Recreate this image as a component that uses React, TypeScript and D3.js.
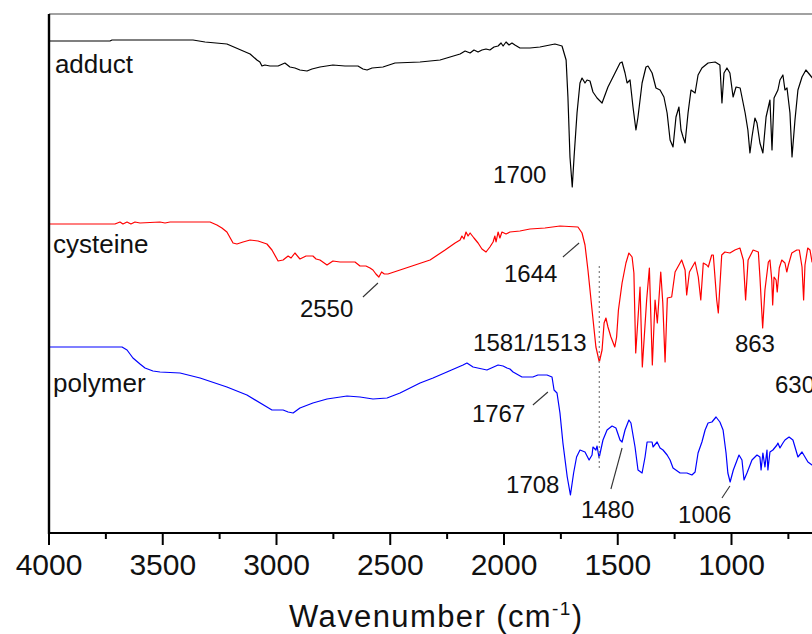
import React from 'react';
import * as d3 from 'd3';

// FTIR spectra: [wavenumber (cm-1), offset transmittance (a.u.)]
const adduct: [number, number][] = [
  [4000, 246], [3732, 246], [3723, 246.5], [3367, 246.5], [3314, 245.5], [3218, 244.5], [3116, 239.5],
  [3086, 236.5], [3073, 235.5], [3064, 233.5], [3051, 234], [3029, 233.5], [2993, 233.5], [2963, 235],
  [2941, 233], [2919, 232.5], [2897, 231.5], [2866, 231], [2844, 232], [2809, 233], [2752, 234],
  [2699, 233.5], [2642, 233.5], [2620, 232], [2602, 231.5], [2580, 232.5], [2532, 233], [2479, 235],
  [2369, 235.5], [2281, 236.5], [2237, 238], [2193, 239.5], [2171, 241], [2149, 240], [2132, 241.5],
  [2114, 240.5], [2097, 241.5], [2079, 242], [2062, 241.5], [2044, 243], [2026, 243.5], [2013, 245],
  [2004, 243.5], [1991, 245.5], [1978, 244], [1965, 245], [1952, 244], [1930, 242.5], [1886, 242.5],
  [1842, 243], [1776, 244.5], [1745, 243.5], [1727, 236.5], [1719, 218], [1710, 188], [1700, 173],
  [1692, 188], [1679, 210], [1666, 225], [1657, 227.5], [1644, 225], [1635, 226.5], [1622, 226],
  [1609, 220.5], [1591, 217.5], [1569, 215], [1543, 223], [1512, 230], [1490, 235], [1481, 235.5],
  [1468, 230], [1459, 225], [1446, 226.5], [1433, 213], [1420, 201.5], [1411, 208], [1393, 225],
  [1376, 233], [1367, 233.5], [1349, 230], [1332, 222.5], [1314, 221.5], [1297, 218], [1283, 210],
  [1270, 196.5], [1257, 193], [1244, 208], [1231, 213], [1222, 201.5], [1213, 198], [1204, 195],
  [1191, 210], [1178, 221.5], [1160, 220], [1147, 229], [1130, 232.5], [1103, 235], [1072, 235.5],
  [1051, 234], [1042, 215], [1033, 230], [1020, 232.5], [1007, 230], [993, 218], [980, 223],
  [962, 222.5], [940, 210], [928, 201.5], [919, 190], [910, 198], [897, 207.5], [888, 205], [875, 195],
  [862, 190], [848, 208], [831, 216.5], [822, 191.5], [813, 217.5], [796, 221.5], [787, 226.5],
  [774, 229], [765, 221.5], [756, 222.5], [743, 210], [734, 188], [721, 206.5], [708, 221.5],
  [690, 228], [673, 231.5], [655, 229], [637, 226.5], [611, 227.5],
];

const cysteine: [number, number][] = [
  [4000, 154.5], [3710, 154.5], [3688, 155.5], [3675, 154.5], [3657, 155.5], [3640, 154.5], [3622, 155.5],
  [3600, 155], [3512, 155.5], [3490, 155], [3468, 155.5], [3292, 155.5], [3262, 154], [3240, 152.5],
  [3218, 150.5], [3191, 145], [3174, 144.5], [3147, 145.5], [3116, 146.5], [3081, 146], [3042, 144.5],
  [3020, 141.5], [2993, 136], [2971, 136.5], [2949, 138.5], [2936, 137.5], [2919, 140], [2897, 137],
  [2870, 138.5], [2840, 138.5], [2826, 137], [2809, 136.5], [2778, 134], [2752, 136], [2721, 135.5],
  [2677, 135.5], [2655, 135.5], [2633, 133.5], [2607, 133.5], [2589, 132.5], [2576, 131.5],
  [2563, 129.5], [2550, 128], [2538, 130.5], [2526, 129.5], [2510, 129.5], [2457, 131.5], [2391, 134],
  [2325, 136.5], [2259, 141.5], [2215, 145], [2193, 146.5], [2185, 148.5], [2176, 147], [2167, 150.5],
  [2158, 148.5], [2149, 150], [2132, 147.5], [2114, 145], [2097, 142], [2079, 140.5], [2062, 143],
  [2048, 145.5], [2040, 148.5], [2035, 145.5], [2026, 150.5], [2018, 147.5], [2009, 150.5],
  [1991, 149.5], [1974, 150.5], [1930, 151], [1886, 152], [1820, 152.5], [1754, 153.5], [1675, 153],
  [1657, 150], [1644, 144], [1631, 131.5], [1613, 111.5], [1596, 93], [1581, 85.5], [1569, 91.5],
  [1560, 105], [1552, 107.5], [1543, 103], [1530, 98], [1513, 93], [1505, 98], [1497, 111.5],
  [1481, 125], [1464, 135], [1451, 140], [1437, 138], [1429, 130], [1421, 90], [1402, 123], [1392, 83],
  [1373, 116.5], [1361, 132.5], [1348, 84], [1336, 116.5], [1326, 105], [1311, 130.5], [1302, 115],
  [1292, 85.5], [1282, 117.5], [1263, 118], [1248, 130.5], [1219, 136.5], [1204, 131.5], [1197, 119],
  [1185, 130.5], [1160, 135.5], [1146, 128], [1135, 116.5], [1124, 135], [1109, 134], [1102, 133],
  [1087, 139], [1080, 139], [1065, 116.5], [1058, 110], [1043, 139], [1029, 140.5], [1007, 140],
  [985, 141.5], [963, 142.5], [948, 136.5], [938, 116.5], [927, 136.5], [905, 141.5], [882, 140.5],
  [875, 128], [863, 102.5], [853, 121.5], [838, 135.5], [831, 136.5], [823, 126.5], [819, 114],
  [813, 128], [804, 126.5], [799, 120.5], [790, 132.5], [779, 136.5], [765, 135], [757, 130.5],
  [750, 134], [735, 140], [713, 141.5], [702, 141.5], [690, 133], [683, 116.5], [677, 134],
  [665, 142.5], [655, 141.5], [646, 135.5], [620, 137.5],
];

const polymer: [number, number][] = [
  [4000, 93], [3679, 93], [3657, 91.5], [3631, 87.5], [3600, 84.5], [3578, 82.5], [3543, 81],
  [3512, 80.5], [3424, 80], [3336, 77.5], [3218, 73], [3130, 69], [3042, 63], [3020, 61.5],
  [2971, 61.5], [2949, 60.5], [2927, 60], [2897, 62.5], [2840, 65], [2778, 67], [2690, 68.5],
  [2633, 68], [2576, 67], [2514, 67.5], [2457, 70], [2369, 75], [2312, 77.5], [2251, 80.5],
  [2180, 84], [2163, 85], [2136, 83], [2075, 81.5], [2026, 84], [2004, 83.5], [1987, 82.5],
  [1974, 82], [1960, 80.5], [1921, 78], [1873, 78], [1851, 79], [1811, 79], [1789, 78], [1780, 71.5],
  [1767, 70], [1754, 60], [1741, 45], [1722, 28], [1708, 19], [1694, 30], [1681, 38], [1666, 41.5],
  [1644, 40.5], [1626, 36.5], [1613, 39], [1609, 43], [1596, 41.5], [1591, 43.5], [1582, 37.5],
  [1565, 46.5], [1547, 51.5], [1525, 53.5], [1508, 52.5], [1490, 46.5], [1481, 45.5], [1468, 51.5],
  [1451, 56.5], [1442, 55], [1424, 43], [1411, 31.5], [1393, 30], [1380, 38], [1371, 45.5],
  [1349, 45.5], [1345, 43], [1327, 45.5], [1314, 42.5], [1301, 41.5], [1283, 39], [1270, 36.5],
  [1257, 32.5], [1226, 30], [1196, 30], [1174, 29], [1160, 30.5], [1147, 40], [1130, 45.5],
  [1116, 51.5], [1103, 55], [1086, 55.5], [1068, 58], [1051, 55.5], [1037, 51.5], [1024, 40],
  [1016, 30], [1006, 25.5], [992, 31.5], [967, 39], [954, 36.5], [945, 26.5], [932, 30], [910, 36.5],
  [888, 39], [875, 38], [870, 31.5], [862, 40], [853, 33], [844, 41.5], [840, 31.5], [831, 40.5],
  [818, 41.5], [800, 44], [796, 45], [787, 42.5], [774, 45], [765, 46.5], [747, 48], [730, 46.5],
  [717, 41.5], [708, 38], [690, 40.5], [677, 38], [664, 35.5], [646, 34], [611, 33.5],
];

const seriesNames = ['adduct', 'cysteine', 'polymer'];
const seriesColors = ['#000000', '#ff0000', '#0000ff'];
const seriesData = [adduct, cysteine, polymer];
// label anchor for each series name: [wavenumber, value]
const seriesLabelAt: [number, number][] = [[3974, 230], [3982, 140], [3982, 70.5]];

const majorTicks = [4000, 3500, 3000, 2500, 2000, 1500, 1000];
const minorTicks = [3750, 3250, 2750, 2250, 1750, 1250, 750];

// peak annotations: text, anchor [wavenumber, value]
const peakText = ['1700', '1644', '2550', '1581/1513', '863', '630', '1767', '1708', '1480', '1006'];
const peakAt: [number, number][] = [
  [2048, 175], [2000, 125.5], [2897, 108], [2136, 91], [985, 90.5], [809, 70],
  [2141, 55.5], [1991, 20], [1662, 7.5], [1235, 5],
];
// leader lines from label toward the band: [[wn, v], [wn, v]]
const leaderLines: [[number, number], [number, number]][] = [
  [[2620, 118], [2554, 125]],
  [[1741, 138], [1670, 145]],
  [[1873, 64], [1807, 70.5]],
  [[1530, 22], [1481, 42.5]],
  [[1042, 17.5], [1007, 23.5]],
];
// dotted guide at the cysteine carboxylate band
const guideWn = 1581;
const guideRange: [number, number] = [31, 133.5];

const FONT = '"Liberation Sans", Arial, sans-serif';

export default function App() {
  const W = 812;
  const H = 634;
  const left = 49;
  const top = 14;
  const bottom = 533;

  const x = d3.scaleLinear().domain([4000, 400]).range([left, left + 3600 * 0.2275]);
  const y = d3.scaleLinear().domain([0, 259.5]).range([bottom, top]);
  const line = d3
    .line<[number, number]>()
    .x((d) => x(d[0]))
    .y((d) => y(d[1]));

  const xEnd = x.range()[1];

  return (
    <svg
      width={W}
      height={H}
      viewBox={`0 0 ${W} ${H}`}
      style={{ position: 'absolute', left: 0, top: 0, background: '#fff' }}
      fontFamily={FONT}
    >
      <defs>
        <clipPath id="plot-clip">
          <rect x={left} y={top} width={xEnd - left} height={bottom - top} />
        </clipPath>
      </defs>

      {/* spectra */}
      <g clipPath="url(#plot-clip)">
        {seriesData.map((d, i) => (
          <path key={seriesNames[i]} d={line(d) || ''} fill="none" stroke={seriesColors[i]} strokeWidth={1.2} strokeLinejoin="round" />
        ))}
      </g>

      {/* dotted guide */}
      <line
        x1={x(guideWn)} x2={x(guideWn)} y1={y(guideRange[1])} y2={y(guideRange[0])}
        stroke="#888" strokeWidth={1.3} strokeDasharray="2,3"
      />

      {/* leader lines */}
      {leaderLines.map((l, i) => (
        <line key={i} x1={x(l[0][0])} y1={y(l[0][1])} x2={x(l[1][0])} y2={y(l[1][1])} stroke="#333" strokeWidth={1.1} />
      ))}

      {/* peak labels */}
      {peakText.map((t, i) => (
        <text key={t} x={x(peakAt[i][0])} y={y(peakAt[i][1])} fontSize={24} fill="#111">
          {t}
        </text>
      ))}

      {/* series names */}
      {seriesNames.map((n, i) => (
        <text key={n} x={x(seriesLabelAt[i][0])} y={y(seriesLabelAt[i][1])} fontSize={26} fill="#111">
          {n}
        </text>
      ))}

      {/* frame */}
      <line x1={left} x2={W} y1={top} y2={top} stroke="#444" strokeWidth={1.2} />
      <line x1={left} x2={left} y1={top} y2={bottom + 1} stroke="#000" strokeWidth={2.4} />
      <line x1={left - 1} x2={W} y1={bottom} y2={bottom} stroke="#000" strokeWidth={2.2} />

      {/* x ticks */}
      {majorTicks.map((t) => (
        <g key={t}>
          <line x1={x(t)} x2={x(t)} y1={bottom} y2={bottom + 12} stroke="#000" strokeWidth={2} />
          <text x={x(t)} y={575} fontSize={30} textAnchor="middle" fill="#111">
            {t}
          </text>
        </g>
      ))}
      {minorTicks.map((t) => (
        <line key={t} x1={x(t)} x2={x(t)} y1={bottom} y2={bottom + 6} stroke="#000" strokeWidth={2} />
      ))}

      {/* axis title */}
      <text x={289} y={627} fontSize={31} letterSpacing={1.4} fill="#111">
        Wavenumber (cm
        <tspan fontSize={19} dy={-12}>-1</tspan>
        <tspan dy={12}>)</tspan>
      </text>
    </svg>
  );
}
